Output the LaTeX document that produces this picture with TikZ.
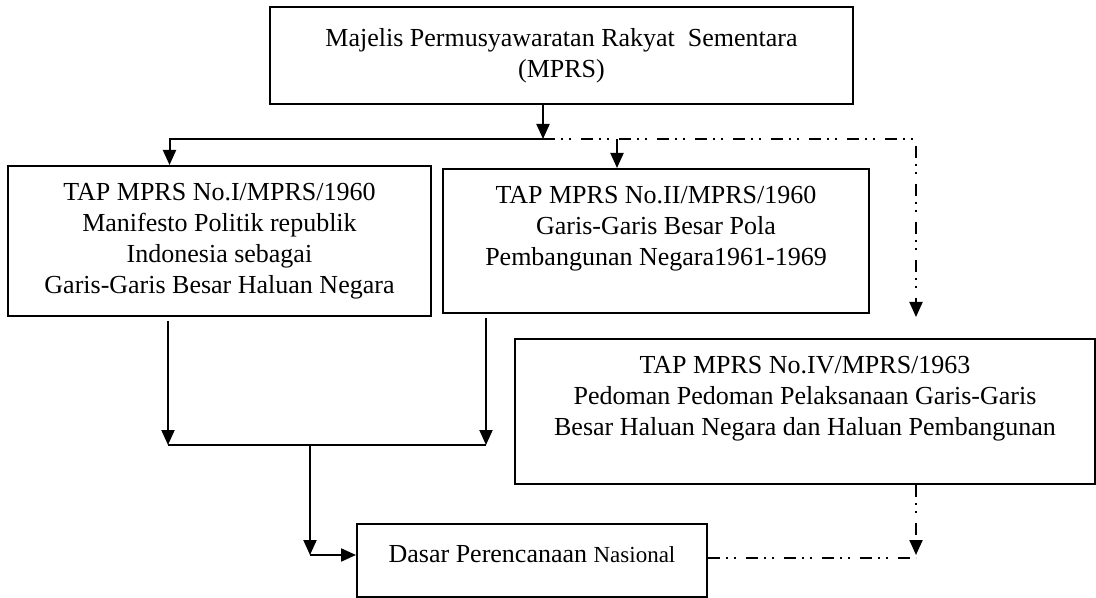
\documentclass[tikz,border=0pt]{standalone}
\usepackage{fontspec}
\setmainfont{Liberation Serif}
\usepackage{tikz}
\usetikzlibrary{arrows.meta,positioning,calc}

\tikzset{
  box/.style={draw, rectangle, line width=1pt, align=center, inner sep=0pt,
    font=\fontsize{13pt}{15.5pt}\selectfont},
  arr/.style={line width=1pt, -{Triangle[length=7.5pt,width=6.5pt]}},
  plain/.style={line width=1pt},
  dashdotline/.style={line width=1pt, dash pattern=on 6pt off 3pt on 1pt off 3pt on 1pt off 5pt}
}

\begin{document}
\begin{tikzpicture}[x=0.5pt, y=-0.5pt]
    \useasboundingbox (0,0) rectangle (1096,598);

    \node (mprs) [box, minimum width=291.5pt, minimum height=48.5pt] at (561.5,55.5) {Majelis Permusyawaratan Rakyat\ \ Sementara\\(MPRS)};

    \node (tapi) [box, minimum width=211.5pt, minimum height=75pt] at (219.5,241) {TAP MPRS No.I/MPRS/1960\\Manifesto Politik republik\\Indonesia sebagai\\Garis-Garis Besar Haluan Negara};
    \node (tapii) [box, right=5pt of tapi, minimum width=213pt, minimum height=72pt] {TAP MPRS No.II/MPRS/1960\\Garis-Garis Besar Pola\\Pembangunan Negara1961-1969\\\mbox{}};

    \node (tapiv) [box, minimum width=290pt, minimum height=72.5pt] at (805,411.5) {TAP MPRS No.IV/MPRS/1963\\Pedoman Pedoman Pelaksanaan Garis-Garis\\Besar Haluan Negara dan Haluan Pembangunan\\\mbox{}};

    \node (dasar) [box, minimum width=175pt, minimum height=36.5pt] at (532,560.5) {Dasar Perencanaan {\fontsize{11.5pt}{13pt}\selectfont Nasional}\\[-8.5pt]\mbox{}};

    % junction points
    \coordinate (split) at (543,139);
    \coordinate (corner) at (916,139);
    \coordinate (joinl) at (168,445);
    \coordinate (joinr) at (486,445);
    \coordinate (join) at (310,445);
    \coordinate (bend) at (310,555);
    \coordinate (bendr) at (916,555);

    \draw[arr] (mprs.south -| split) -- (split);
    \draw[arr] (split) -| ([xshift=-25pt]tapi.north);
    \draw[arr] ([xshift=-19.5pt,yshift=14.5pt]tapii.north) -- ([xshift=-19.5pt]tapii.north);
    \draw[dashdotline, arr] (split) -- (corner) -- ([yshift=10.5pt]tapiv.north -| corner);

    \draw[arr] ([yshift=-2pt]tapi.south -| joinl) -- (joinl);
    \draw[arr] ([yshift=-2pt]tapii.south -| joinr) -- (joinr);
    \draw[plain] (joinl) -- (joinr);
    \draw[arr] (join) -- (bend);
    \draw[arr] (bend) -- (bend -| dasar.west);

    \draw[dashdotline, arr] (tapiv.south -| bendr) -- (bendr);
    \draw[dashdotline] ([yshift=1.25pt]dasar.east) -- ([yshift=1.25pt]dasar.east -| bendr);
\end{tikzpicture}
\end{document}
